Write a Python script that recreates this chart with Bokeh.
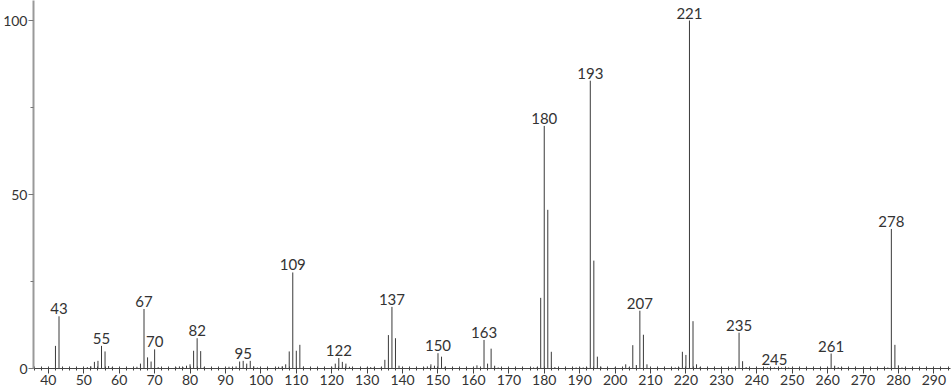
from bokeh.plotting import figure
from bokeh.models import FixedTicker, SingleIntervalTicker, ColumnDataSource, Range1d
from bokeh.core.properties import value
from bokeh.embed import file_html
from bokeh.resources import INLINE

mz = [42, 43, 51, 52, 53, 54, 55, 56, 57, 58, 65, 66, 67, 68, 69, 70, 71,
      76, 77, 78, 79, 80, 81, 82, 83, 84, 91, 92, 93, 94, 95, 96, 97, 98, 99,
      105, 106, 107, 108, 109, 110, 111, 112, 120, 121, 122, 123, 124, 125,
      130, 131, 132, 134, 135, 136, 137, 138, 139, 146, 147, 148, 149, 150,
      151, 152, 160, 161, 162, 163, 164, 165, 166, 167, 177, 178, 179, 180,
      181, 182, 183, 189, 190, 191, 192, 193, 194, 195, 196, 200, 203, 204,
      205, 206, 207, 208, 209, 210, 217, 218, 219, 220, 221, 222, 223, 224,
      233, 234, 235, 236, 237, 243, 245, 247, 249, 260, 261, 262, 263, 264,
      277, 278, 279, 280, 281]
intensity = [6.5, 15.0, 0.4, 0.6, 1.9, 2.2, 6.5, 4.9, 0.7, 0.3, 0.5, 1.4, 17.1,
             3.2, 2.0, 5.5, 0.4, 0.4, 0.6, 0.4, 0.8, 1.2, 5.1, 8.7, 5.0, 0.4,
             0.5, 0.3, 0.6, 2.0, 2.2, 1.4, 2.2, 0.6, 0.3, 0.5, 0.6, 1.2, 4.9,
             27.6, 5.1, 6.8, 0.5, 0.5, 1.4, 3.0, 1.9, 1.4, 0.5, 0.3, 0.4, 0.3,
             0.4, 2.5, 9.6, 17.7, 8.7, 0.8, 0.3, 0.6, 1.2, 0.8, 4.4, 3.4, 0.5,
             0.3, 0.9, 0.3, 8.2, 1.4, 5.7, 0.8, 0.3, 0.3, 0.4, 20.3, 69.7, 45.6,
             4.8, 0.4, 0.3, 0.4, 0.3, 0.4, 82.7, 31.0, 3.4, 0.5, 0.3, 1.2, 0.4,
             6.7, 1.0, 16.6, 9.7, 1.2, 0.3, 0.3, 0.4, 4.8, 3.9, 100.0, 13.6,
             1.2, 0.4, 0.3, 0.5, 10.3, 2.1, 0.4, 0.3, 0.3, 0.3, 0.3, 0.3, 4.3,
             0.8, 0.4, 0.3, 0.3, 40.1, 6.8, 0.9, 0.3]
labelled = [43, 55, 67, 70, 82, 95, 109, 122, 137, 150, 163, 180, 193, 207,
            221, 235, 245, 261, 278]
y_ticks = [0, 50, 100]
y_minor = [25, 75]

lookup = dict(zip(mz, intensity))
peaks = ColumnDataSource(dict(x=mz, y0=[0] * len(mz), y1=intensity))
labels = ColumnDataSource(dict(x=labelled, y=[lookup[m] for m in labelled],
                               t=[str(m) for m in labelled]))

FONT = "Lato"
TXT = "#333333"

p = figure(width=951, height=389, output_backend="svg", toolbar_location=None,
           x_range=Range1d(35.8, 294.7), y_range=Range1d(0, 105.75),
           min_border_left=30, min_border_right=1, min_border_top=0,
           min_border_bottom=21)
p.grid.visible = False
p.outline_line_color = None
p.background_fill_color = "white"
p.border_fill_color = "white"

p.segment(x0="x", y0="y0", x1="x", y1="y1", source=peaks,
          line_color="#3a3a3a", line_width=1)
p.text(x="x", y="y", text="t", source=labels, text_align="center",
       text_baseline="bottom", y_offset=-2, text_color=TXT,
       text_font=value(FONT), text_font_size="15px")

xa = p.xaxis[0]
xa.ticker = SingleIntervalTicker(interval=10, num_minor_ticks=5)
xa.axis_line_color = "#444444"
xa.major_tick_line_color = "#444444"
xa.minor_tick_line_color = "#444444"
xa.major_tick_in = 0
xa.major_tick_out = 5
xa.minor_tick_in = 2
xa.minor_tick_out = 2
xa.major_label_standoff = 1
xa.major_label_text_font = FONT
xa.major_label_text_font_size = "14px"
xa.major_label_text_color = TXT

ya = p.yaxis[0]
ya.ticker = FixedTicker(ticks=y_ticks, minor_ticks=y_minor)
ya.axis_line_color = "#999999"
ya.axis_line_width = 2
ya.major_tick_line_color = "#777777"
ya.minor_tick_line_color = "#777777"
ya.major_tick_in = 0
ya.major_tick_out = 5
ya.minor_tick_in = 0
ya.minor_tick_out = 3
ya.major_label_standoff = 1
ya.major_label_text_font = FONT
ya.major_label_text_font_size = "14px"
ya.major_label_text_color = TXT

open("out.html", "w").write(file_html(p, INLINE))
